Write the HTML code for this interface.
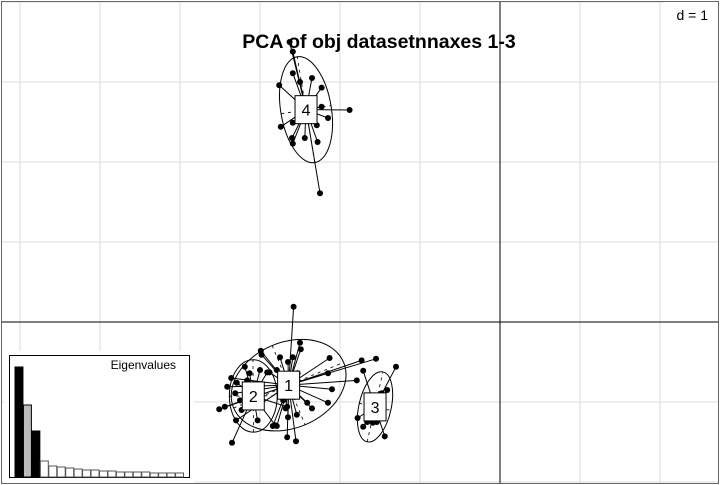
<!DOCTYPE html>
<html><head><meta charset="utf-8"><style>
html,body{margin:0;padding:0;background:#fff;}
svg{display:block;font-family:"Liberation Sans",sans-serif;}
</style></head><body>
<svg id="chart" width="720" height="485" viewBox="0 0 720 485" xmlns="http://www.w3.org/2000/svg"></svg>
<script>
const classLabels = ["1","2","3","4"];
const c1x = [-2.58,-2.50,-2.49,-2.59,-2.65,-2.13,-2.15,-1.79,-1.55,-1.73,-2.10,-2.15,-2.35,-2.41,-2.54,-2.55,-2.66,-2.65,-2.79,-2.84,-2.68,-2.75,-2.53,-2.99,-2.98,-2.79,-2.88,-2.71,-3.51,-3.44,-3.41,-3.36,-3.31,-3.30];
const c1y = [0.19,-0.26,-0.34,-0.44,-0.50,-0.45,-0.64,-0.73,-0.46,-0.48,-0.84,-1.01,-1.08,-1.01,-1.16,-1.49,-1.44,-1.19,-1.30,-1.30,-1.08,-0.44,-0.64,-0.36,-0.41,-0.60,-0.63,-0.98,-1.09,-1.06,-0.81,-0.70,-0.89,-1.23];
const c2x = [-3.35,-3.19,-3.13,-3.23,-3.00,-2.91,-3.29,-3.25,-2.81,-3.16,-2.66,-3.03];
const c2y = [-1.51,-0.56,-0.64,-1.10,-0.60,-0.63,-0.76,-0.98,-1.29,-0.73,-1.06,-1.23];
const c3x = [-1.71,-1.30,-1.41,-1.78,-1.71,-1.44,-1.59,-1.48,-1.66,-1.54];
const c3y = [-0.61,-0.56,-0.85,-1.20,-1.31,-1.43,-1.26,-0.89,-1.25,-1.25];
const c4x = [-2.63,-2.59,-2.76,-2.59,-2.50,-2.35,-2.23,-1.88,-2.15,-2.74,-2.59,-2.60,-2.59,-2.44,-2.28,-2.29,-2.25,-2.38,-2.23];
const c4y = [3.50,3.38,2.96,3.11,3.00,3.05,2.93,2.65,2.55,2.44,2.49,2.30,2.23,2.30,2.25,2.46,1.61,2.53,2.69];
const eigenvalues = [110,72,46,16,11,10,9,8,7,7,6,6,5,5,5,5,4,4,4,4];
const xTicks = [-6,-5,-4,-3,-2,-1,0,1,2];
const yTicks = [-2,-1,0,1,2,3,4];

const NS="http://www.w3.org/2000/svg";
const svg=document.getElementById('chart');
const X0=500,Y0=322,U=80;
const sx=v=>X0+v*U, sy=v=>Y0-v*U;
function mk(t,a,p){const e=document.createElementNS(NS,t);for(const k in a)e.setAttribute(k,a[k]);(p||svg).appendChild(e);return e;}

const grid=mk('g',{});


xTicks.forEach(t=>{const x=sx(t);if(x>0&&x<720)mk('line',{x1:x,y1:1,x2:x,y2:484,stroke:'#dcdcdc','stroke-width':1},grid);});
yTicks.forEach(t=>{const y=sy(t);if(y>0&&y<485)mk('line',{x1:1,y1:y,x2:719,y2:y,stroke:'#dcdcdc','stroke-width':1},grid);});
const ax=mk('g',{});


mk('line',{x1:sx(0),y1:1,x2:sx(0),y2:484,stroke:'#000','stroke-width':1},ax);
mk('line',{x1:1,y1:sy(0),x2:719,y2:sy(0),stroke:'#000','stroke-width':1},ax);
mk('rect',{x:1.5,y:1.5,width:717,height:482,fill:'none',stroke:'#666','stroke-width':1},ax);

const clusters=[[c1x,c1y],[c2x,c2y],[c3x,c3y],[c4x,c4y]];
const labelPos=[];
clusters.forEach((c,i)=>{
  const xs=c[0],ys=c[1],n=xs.length;
  const g=mk('g',{});
  
  
  const mx=xs.reduce((a,b)=>a+b,0)/n,my=ys.reduce((a,b)=>a+b,0)/n;
  let vxx=0,vyy=0,vxy=0;
  for(let k=0;k<n;k++){vxx+=(xs[k]-mx)**2;vyy+=(ys[k]-my)**2;vxy+=(xs[k]-mx)*(ys[k]-my);}
  vxx/=n;vyy/=n;vxy/=n;
  const tr=vxx+vyy,det=vxx*vyy-vxy*vxy,disc=Math.sqrt(Math.max(0,tr*tr/4-det));
  const l1=tr/2+disc,l2=tr/2-disc;
  const ang=Math.atan2(l1-vxx,vxy||1e-9);
  const r1=1.5*Math.sqrt(l1)*U,r2=1.5*Math.sqrt(Math.max(l2,0))*U;
  const deg=-ang*180/Math.PI;
  const el=mk('ellipse',{cx:sx(mx),cy:sy(my),rx:r1,ry:r2,transform:`rotate(${deg} ${sx(mx)} ${sy(my)})`,fill:'none',stroke:'#000','stroke-width':1},g);
  
  
  mk('line',{x1:sx(mx)-r1,y1:sy(my),x2:sx(mx)+r1,y2:sy(my),transform:`rotate(${deg} ${sx(mx)} ${sy(my)})`,stroke:'#000','stroke-width':0.8,'stroke-dasharray':'3,4'},g);
  mk('line',{x1:sx(mx),y1:sy(my)-r2,x2:sx(mx),y2:sy(my)+r2,transform:`rotate(${deg} ${sx(mx)} ${sy(my)})`,stroke:'#000','stroke-width':0.8,'stroke-dasharray':'3,4'},g);
  for(let k=0;k<n;k++){
    mk('line',{x1:sx(mx),y1:sy(my),x2:sx(xs[k]),y2:sy(ys[k]),stroke:'#000','stroke-width':1},g);
    const p=mk('circle',{cx:sx(xs[k]),cy:sy(ys[k]),r:3,fill:'#000'},g);
    
    
  }
  labelPos.push([sx(mx),sy(my)]);
});
labelPos.forEach((p,i)=>{
  const g=mk('g',{});
  
  
  mk('rect',{x:p[0]-11,y:p[1]-14,width:22,height:28,fill:'#fff',stroke:'#000','stroke-width':1},g);
  const t=mk('text',{x:p[0],y:p[1]+6,'text-anchor':'middle','font-size':16,fill:'#000'},g);
  t.textContent=classLabels[i];
});

const title=mk('text',{x:379,y:48,'text-anchor':'middle','font-size':19.5,'font-weight':'bold',fill:'#000'});


title.textContent='PCA of obj datasetnnaxes 1-3';
const dg=mk('g',{});


mk('rect',{x:664,y:2,width:54,height:24,fill:'#fff'},dg);
const dt=mk('text',{x:708,y:20,'text-anchor':'end','font-size':14,fill:'#000'},dg);
dt.textContent='d = 1';

const eg=mk('g',{});


mk('rect',{x:4,y:351,width:190,height:132,fill:'#fff'},eg);
mk('rect',{x:9.5,y:355.5,width:180,height:122,fill:'#fff',stroke:'#000','stroke-width':1},eg);
const et=mk('text',{x:176,y:369,'text-anchor':'end','font-size':12,fill:'#000'},eg);
et.textContent='Eigenvalues';
const bw=8.45,bx0=15,base=477;
eigenvalues.forEach((v,i)=>{
  const fill=i===1?'#bbb':(i<3?'#000':'#fff');
  const b=mk('rect',{x:bx0+i*bw,y:base-v,width:bw-0.5,height:v,fill:fill,stroke:i<3?'#000':'#555','stroke-width':1},eg);
  
  
});
</script>
</body></html>
